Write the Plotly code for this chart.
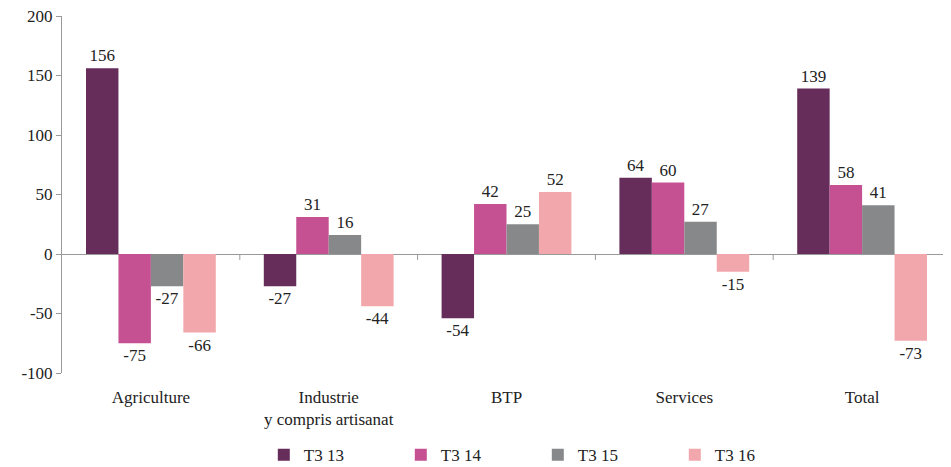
import plotly.graph_objects as go

categories = ["Agriculture", "Industrie<br>y compris artisanat", "BTP", "Services", "Total"]
series_names = ["T3 13", "T3 14", "T3 15", "T3 16"]
t3_13 = [156, -27, -54, 64, 139]
t3_14 = [-75, 31, 42, 60, 58]
t3_15 = [-27, 16, 25, 27, 41]
t3_16 = [-66, -44, 52, -15, -73]
y_ticks = [-100, -50, 0, 50, 100, 150, 200]
colors = ["#662D5B", "#C55193", "#87888A", "#F2A7AD"]

font = "Liberation Serif"
fig = go.Figure()
for name, vals, col in zip(series_names, [t3_13, t3_14, t3_15, t3_16], colors):
    fig.add_trace(go.Bar(
        x=categories, y=vals, name=name, marker=dict(color=col, line=dict(width=0)),
        text=[str(v) for v in vals], textposition="outside",
        textfont=dict(family=font, size=17, color="#222222"),
        cliponaxis=False,
    ))

# boundary tick marks on the zero line
shapes = []
for i in range(len(categories) - 1):
    shapes.append(dict(type="line", xref="x", yref="y", x0=i + 0.5, x1=i + 0.5,
                       y0=0, y1=-5, line=dict(color="#999999", width=1)))

# page body has an 8px default margin; size the figure to fit the window
fig.update_layout(
    width=943, height=459,
    margin=dict(l=54, r=0, t=8, b=94, autoexpand=False),
    paper_bgcolor="white", plot_bgcolor="white",
    barmode="group", bargap=0.27, bargroupgap=0,
    font=dict(family=font, size=17, color="#222222"),
    shapes=shapes,
    showlegend=True,
    legend=dict(orientation="h", x=0.227, xanchor="left", y=-0.18, yanchor="top",
                entrywidth=92, entrywidthmode="pixels",
                font=dict(family=font, size=17, color="#222222"),
                itemwidth=30, tracegroupgap=0),
    xaxis=dict(showline=False, ticks="", showgrid=False, tickfont=dict(family=font, size=17),
               ticklabelstandoff=12),
    yaxis=dict(range=[-100, 200], tickvals=y_ticks, ticktext=[str(v) for v in y_ticks],
               showgrid=False, zeroline=True, ticklabeloverflow="allow",
               zerolinecolor="#999999", zerolinewidth=1,
               showline=True, linecolor="#999999", linewidth=1,
               ticks="outside", ticklen=5, tickcolor="#999999",
               tickfont=dict(family=font, size=17)),
)
fig.write_html("out.html")
